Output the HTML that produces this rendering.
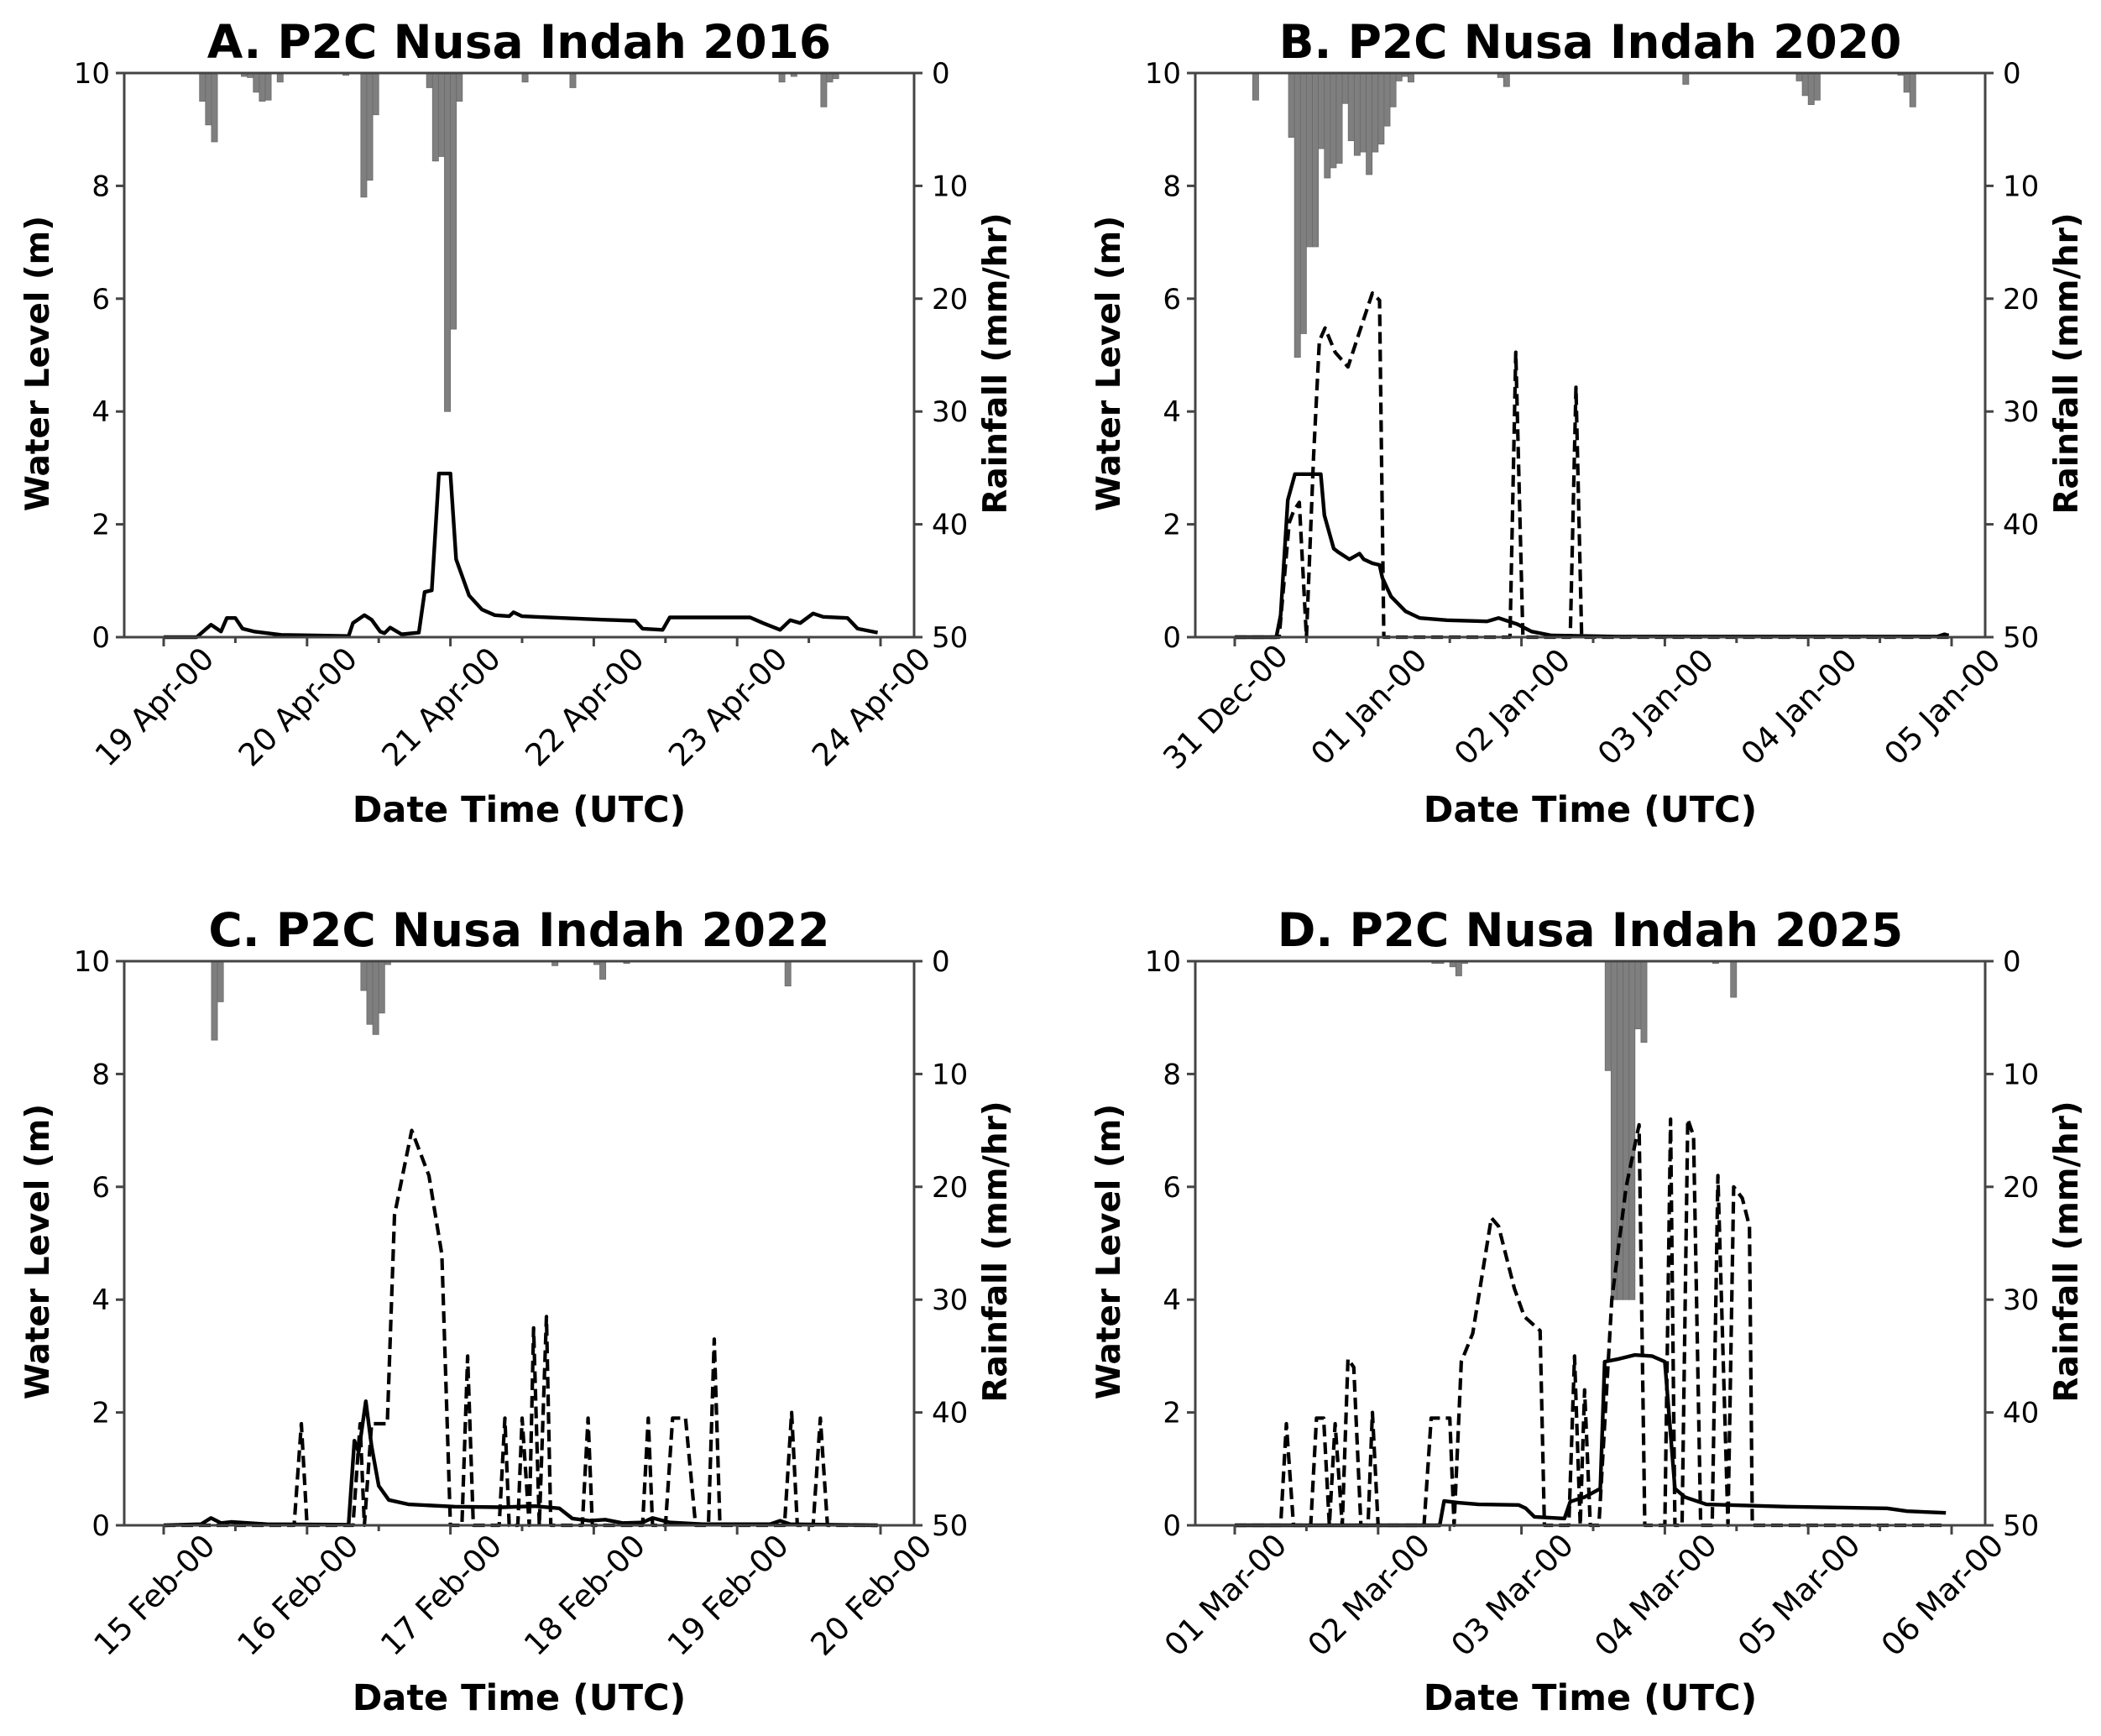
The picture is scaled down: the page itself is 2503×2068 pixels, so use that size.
<!DOCTYPE html>
<html><head><meta charset="utf-8"><style>
html,body{margin:0;padding:0;background:#fff}
svg{display:block}
text{font-family:"DejaVu Sans","Liberation Sans",sans-serif;fill:#000}
</style></head><body>
<svg id="chart" xmlns="http://www.w3.org/2000/svg" width="2503" height="2068" viewBox="0 0 2503 2068"></svg>
<script>
// ---- Panel A: P2C Nusa Indah 2016 ----
const aTitle = "A. P2C Nusa Indah 2016";
const aTickLabels = ["19 Apr-00","20 Apr-00","21 Apr-00","22 Apr-00","23 Apr-00","24 Apr-00"];
const aObsDays = [0,0.23,0.33,0.40,0.44,0.50,0.55,0.63,0.82,1.29,1.32,1.40,1.45,1.51,1.54,1.58,1.66,1.78,1.82,1.87,1.92,2.00,2.04,2.13,2.22,2.31,2.41,2.44,2.50,3.06,3.29,3.34,3.48,3.53,4.09,4.18,4.30,4.37,4.44,4.53,4.60,4.77,4.84,4.98];
const aObsLevel = [0,0,0.22,0.10,0.34,0.34,0.15,0.10,0.04,0.02,0.25,0.39,0.31,0.10,0.07,0.17,0.05,0.08,0.80,0.83,2.90,2.90,1.38,0.74,0.49,0.39,0.37,0.44,0.37,0.31,0.29,0.15,0.13,0.35,0.35,0.25,0.13,0.30,0.25,0.42,0.36,0.34,0.15,0.08];
const aSimDays = [];
const aSimLevel = [];
const aRainHours = [6,7,8,13,14,15,16,17,19,30,33,34,35,44,45,46,47,48,49,60,68,103,105,110,111,112];
const aRainValues = [2.5,4.6,6.1,0.3,0.4,1.7,2.5,2.4,0.8,0.2,11.0,9.5,3.7,1.3,7.8,7.4,30.0,22.7,2.5,0.8,1.3,0.8,0.3,3.0,0.8,0.5];

// ---- Panel B: P2C Nusa Indah 2020 ----
const bTitle = "B. P2C Nusa Indah 2020";
const bTickLabels = ["31 Dec-00","01 Jan-00","02 Jan-00","03 Jan-00","04 Jan-00","05 Jan-00"];
const bObsDays = [0,0.29,0.32,0.37,0.42,0.60,0.625,0.69,0.72,0.80,0.87,0.90,0.96,1.01,1.03,1.09,1.19,1.29,1.48,1.76,1.84,1.97,2.07,2.21,2.66,4.90,4.95,4.98];
const bObsLevel = [0,0,0.39,2.43,2.89,2.89,2.16,1.57,1.51,1.38,1.48,1.38,1.31,1.28,1.05,0.72,0.46,0.34,0.30,0.28,0.34,0.23,0.10,0.03,0.01,0.01,0.05,0.03];
const bSimDays = [0,0.31,0.38,0.41,0.45,0.50,0.55,0.59,0.63,0.70,0.79,0.90,0.96,1.01,1.04,1.92,1.96,2.01,2.34,2.38,2.42,4.98];
const bSimLevel = [0,0,2.03,2.23,2.39,0,3.2,5.25,5.48,5.05,4.79,5.64,6.1,5.97,0,0,5.05,0,0,4.43,0,0];
const bRainHours = [3,9,10,11,12,13,14,15,16,17,18,19,20,21,22,23,24,25,26,27,28,29,44,45,75,94,95,96,97,111,112,113];
const bRainValues = [2.4,5.7,25.2,23.1,15.4,15.4,6.7,9.3,8.4,8.0,2.7,6.0,7.3,7.0,9.0,7.0,6.3,4.7,3.0,0.7,0.3,0.8,0.4,1.2,1.0,0.7,2.0,2.8,2.4,0.2,1.7,3.0];

// ---- Panel C: P2C Nusa Indah 2022 ----
const cTitle = "C. P2C Nusa Indah 2022";
const cTickLabels = ["15 Feb-00","16 Feb-00","17 Feb-00","18 Feb-00","19 Feb-00","20 Feb-00"];
const cObsDays = [0,0.26,0.33,0.40,0.47,0.72,1.29,1.33,1.36,1.41,1.45,1.50,1.57,1.71,2.03,2.36,2.59,2.76,2.85,2.97,3.08,3.20,3.34,3.41,3.53,3.76,4.23,4.30,4.37,4.98];
const cObsLevel = [0,0.02,0.13,0.04,0.06,0.02,0.01,1.5,1.3,2.2,1.4,0.7,0.45,0.37,0.33,0.32,0.34,0.30,0.12,0.08,0.10,0.04,0.05,0.13,0.05,0.02,0.02,0.08,0.02,0];
const cSimDays = [0,0.91,0.96,1.0,1.32,1.37,1.40,1.45,1.52,1.56,1.61,1.73,1.85,1.94,2.0,2.08,2.12,2.16,2.34,2.38,2.41,2.47,2.50,2.55,2.58,2.62,2.67,2.70,2.92,2.96,2.99,3.34,3.38,3.41,3.50,3.55,3.64,3.71,3.80,3.84,3.88,4.33,4.38,4.42,4.53,4.58,4.63,4.98];
const cSimLevel = [0,0,1.8,0,0,1.8,0,1.8,1.8,1.8,5.5,7.0,6.2,4.8,0,0,3.0,0,0,1.9,0,0,1.9,0,3.5,0,3.7,0,0,1.9,0,0,1.9,0,0,1.9,1.9,0,0,3.3,0,0,2.0,0,0,1.9,0,0];
const cRainHours = [8,9,33,34,35,36,37,65,72,73,77,104];
const cRainValues = [7.0,3.6,2.6,5.6,6.5,4.6,0.3,0.4,0.3,1.6,0.2,2.2];

// ---- Panel D: P2C Nusa Indah 2025 ----
const dTitle = "D. P2C Nusa Indah 2025";
const dTickLabels = ["01 Mar-00","02 Mar-00","03 Mar-00","04 Mar-00","05 Mar-00","06 Mar-00"];
const dObsDays = [0,1.43,1.46,1.56,1.70,1.98,2.03,2.09,2.30,2.34,2.44,2.55,2.58,2.68,2.79,2.91,3.0,3.07,3.14,3.29,3.85,4.55,4.69,4.96];
const dObsLevel = [0,0,0.43,0.40,0.37,0.36,0.30,0.15,0.12,0.42,0.50,0.65,2.9,2.95,3.02,3.0,2.9,0.65,0.5,0.37,0.33,0.30,0.25,0.22];
const dSimDays = [0,0.32,0.36,0.41,0.53,0.57,0.62,0.66,0.70,0.75,0.79,0.83,0.88,0.93,0.96,1.0,1.32,1.37,1.50,1.53,1.58,1.66,1.79,1.84,1.95,2.02,2.13,2.16,2.33,2.37,2.41,2.44,2.48,2.54,2.63,2.73,2.82,2.86,3.0,3.04,3.07,3.12,3.16,3.20,3.25,3.33,3.37,3.44,3.48,3.54,3.59,3.61,4.96];
const dSimLevel = [0,0,1.8,0,0,1.9,1.9,0,1.8,0,2.95,2.8,0,0,2.0,0,0,1.9,1.9,0,2.9,3.4,5.45,5.3,4.2,3.7,3.45,0,0,3.0,0,2.4,0,0,4.0,6.0,7.1,0,0,7.2,0,0,7.2,6.9,0,0,6.2,0,6.0,5.8,5.3,0,0];
const dRainHours = [33,34,36,37,38,62,63,64,65,66,67,68,80,83];
const dRainValues = [0.2,0.2,0.5,1.3,0.2,9.7,30,30,30,30,6.0,7.2,0.2,3.2];

const yTickLabels = ["0","2","4","6","8","10"];
const rTickLabels = ["0","10","20","30","40","50"];

const panels = [
  {key:'a', title:aTitle, ticks:aTickLabels, od:aObsDays, ol:aObsLevel, sd:aSimDays, sl:aSimLevel, rh:aRainHours, rv:aRainValues, L:148, T:87},
  {key:'b', title:bTitle, ticks:bTickLabels, od:bObsDays, ol:bObsLevel, sd:bSimDays, sl:bSimLevel, rh:bRainHours, rv:bRainValues, L:1424, T:87},
  {key:'c', title:cTitle, ticks:cTickLabels, od:cObsDays, ol:cObsLevel, sd:cSimDays, sl:cSimLevel, rh:cRainHours, rv:cRainValues, L:148, T:1145},
  {key:'d', title:dTitle, ticks:dTickLabels, od:dObsDays, ol:dObsLevel, sd:dSimDays, sl:dSimLevel, rh:dRainHours, rv:dRainValues, L:1424, T:1145}
];

const NS = "http://www.w3.org/2000/svg";
const svg = document.getElementById('chart');
const W = 941, H = 672, X0 = 47, DAY = 170.8;
function mk(tag, attrs, parent){
  const e = document.createElementNS(NS, tag);
  for (const k in attrs) e.setAttribute(k, attrs[k]);
  parent.appendChild(e);
  return e;
}

panels.forEach(p => {
  const g = mk('g', {}, svg);
  
  
  const xs = d => p.L + X0 + d * DAY;
  const xh = h => p.L + X0 + h / 24 * DAY;
  const ys = v => p.T + H - v / 10 * H;
  const yr = r => p.T + r / 50 * H;
  const B = p.T + H, R = p.L + W;

  const bw = DAY / 24;
  p.rh.forEach((h, i) => {
    const r = mk('rect', {x: xh(h), y: p.T, width: bw, height: yr(p.rv[i]) - p.T, fill: '#7f7f7f', stroke: '#6a6a6a', 'stroke-width': 0.8}, g);
    
    
  });

  if (p.sd.length) {
    const d = p.sd.map((v, i) => (i ? 'L' : 'M') + xs(v).toFixed(1) + ',' + ys(p.sl[i]).toFixed(1)).join(' ');
    const pl = mk('path', {d: d, fill: 'none', stroke: '#000', 'stroke-width': 4.2, 'stroke-dasharray': '14 7', 'stroke-linejoin': 'round'}, g);
    
    
  }
  {
    const d = p.od.map((v, i) => (i ? 'L' : 'M') + xs(v).toFixed(1) + ',' + ys(p.ol[i]).toFixed(1)).join(' ');
    const pl = mk('path', {d: d, fill: 'none', stroke: '#000', 'stroke-width': 4.4, 'stroke-linejoin': 'round'}, g);
    
    
  }

  const fr = mk('rect', {x: p.L, y: p.T, width: W, height: H, fill: 'none', stroke: '#444', 'stroke-width': 3}, g);
  
  

  yTickLabels.forEach((t, i) => {
    const y = ys(i * 2);
    mk('line', {x1: p.L - 10, x2: p.L, y1: y, y2: y, stroke: '#444', 'stroke-width': 3}, g);
    const tx = mk('text', {x: p.L - 17, y: y + 12, 'text-anchor': 'end', 'font-size': 34}, g);
    tx.textContent = t;
    
    
  });
  rTickLabels.forEach((t, i) => {
    const y = yr(i * 10);
    mk('line', {x1: R, x2: R + 10, y1: y, y2: y, stroke: '#444', 'stroke-width': 3}, g);
    const tx = mk('text', {x: R + 21, y: y + 12, 'text-anchor': 'start', 'font-size': 34}, g);
    tx.textContent = t;
    
    
  });
  for (let k = 0; k <= 10; k++) {
    const x = xs(k / 2);
    mk('line', {x1: x, x2: x, y1: B, y2: B + (k % 2 ? 7 : 11), stroke: '#444', 'stroke-width': 3}, g);
  }
  p.ticks.forEach((t, i) => {
    const x = xs(i);
    const tx = mk('text', {x: 0, y: 0, 'text-anchor': 'middle', 'font-size': 37, transform: `translate(${x - 2},${B + 92}) rotate(-45)`}, g);
    tx.textContent = t;
    
    
  });

  const ti = mk('text', {x: p.L + W / 2, y: p.T - 18, 'text-anchor': 'middle', 'font-size': 55, 'font-weight': 'bold'}, g);
  ti.textContent = p.title;
  
  
  const xl = mk('text', {x: p.L + W / 2, y: B + 220, 'text-anchor': 'middle', 'font-size': 43, 'font-weight': 'bold'}, g);
  xl.textContent = 'Date Time (UTC)';
  
  
  const yl = mk('text', {x: 0, y: 0, 'text-anchor': 'middle', 'font-size': 39, 'font-weight': 'bold', transform: `translate(${p.L - 90},${p.T + H / 2 + 10}) rotate(-90)`}, g);
  yl.textContent = 'Water Level (m)';
  
  
  const rl = mk('text', {x: 0, y: 0, 'text-anchor': 'middle', 'font-size': 39, 'font-weight': 'bold', transform: `translate(${R + 110},${p.T + H / 2 + 10}) rotate(-90)`}, g);
  rl.textContent = 'Rainfall (mm/hr)';
  
  
});
</script>
</body></html>
